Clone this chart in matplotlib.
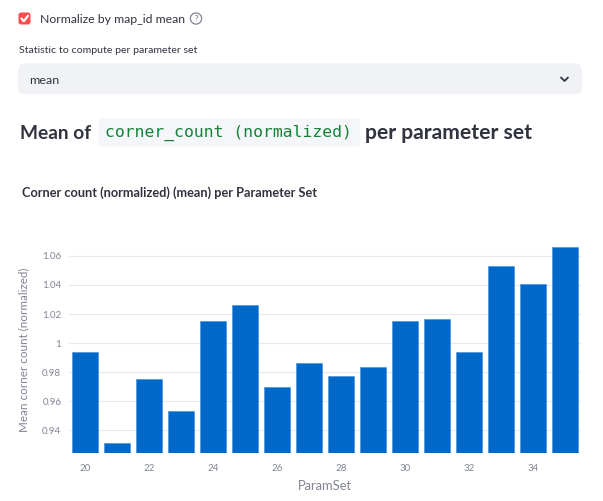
import matplotlib
matplotlib.use("Agg")
import matplotlib.pyplot as plt
from matplotlib.patches import FancyBboxPatch, Circle

# ---- data ----
param_sets = [20, 21, 22, 23, 24, 25, 26, 27, 28, 29, 30, 31, 32, 33, 34, 35]
mean_values = [0.994, 0.931, 0.975, 0.953, 1.015, 1.0265, 0.970, 0.9863,
               0.9772, 0.9834, 1.0153, 1.0164, 0.9937, 1.0531, 1.0407, 1.0664]
x_ticks = [20, 22, 24, 26, 28, 30, 32, 34]
y_ticks = [0.94, 0.96, 0.98, 1.00, 1.02, 1.04, 1.06]
y_tick_labels = ["0.94", "0.96", "0.98", "1", "1.02", "1.04", "1.06"]

W, H = 603, 501
FONT = ["Lato", "DejaVu Sans"]
TXT = "#31333F"
GRAY = "#808495"
BLUE = "#0068c9"

fig = plt.figure(figsize=(W / 100, H / 100), dpi=100)
fig.patch.set_facecolor("white")
ov = fig.add_axes([0, 0, 1, 1])
ov.set_xlim(0, W)
ov.set_ylim(H, 0)
ov.axis("off")
renderer = fig.canvas.get_renderer()


def fit(x, y, s, width, ha="left", va="baseline", size=10, **kw):
    t = ov.text(x, y, s, ha=ha, va=va, fontsize=size, **kw)
    bb = t.get_window_extent(renderer)
    t.set_fontsize(size * width / bb.width)
    return t


# checkbox
ov.add_patch(FancyBboxPatch((18.5, 12.5), 12, 12, boxstyle="round,pad=0,rounding_size=2.5",
                            fc="#ff4b4b", ec="none"))
ov.plot([21.5, 23.8, 28], [18.6, 21.2, 15.8], color="white", lw=1.6,
        solid_capstyle="round", solid_joinstyle="round")
fit(40, 22.7, "Normalize by map_id mean", 146, family=FONT, color=TXT)
ov.add_patch(Circle((196, 18.5), 5.6, fc="none", ec=GRAY, lw=0.9))
ov.text(196, 18.8, "?", ha="center", va="center", fontsize=5.5, family=FONT,
        color=GRAY, fontweight="bold")

# select label and box
fit(19, 53.3, "Statistic to compute per parameter set", 177, family=FONT, color=TXT)
ov.add_patch(FancyBboxPatch((18, 63.3), 564, 31, boxstyle="round,pad=0,rounding_size=7",
                            fc="#f0f2f6", ec="none"))
fit(29.5, 84.0, "mean", 30, family=FONT, color=TXT)
ov.plot([561, 564.5, 568], [77.5, 81, 77.5], color=TXT, lw=1.3,
        solid_capstyle="round", solid_joinstyle="round")

# heading
fit(20, 139.3, "Mean of", 71.5, family=FONT, color=TXT, fontweight="bold")
ov.add_patch(FancyBboxPatch((98.3, 118.3), 261.7, 28.4, boxstyle="round,pad=0,rounding_size=4",
                            fc="#f5f6f9", ec="none"))
fit(105, 137.2, "corner_count (normalized)", 246.5, family="DejaVu Sans Mono",
    color="#158237")
fit(365, 139.3, "per parameter set", 167.7, family=FONT, color=TXT, fontweight="bold")

# chart title
fit(21.7, 196.7, "Corner count (normalized) (mean) per Parameter Set", 296.6,
    family=FONT, color=TXT, fontweight="bold")

# ---- chart ----
left, right, top, bottom = 69, 581, 246.6, 452.7
ax = fig.add_axes([left / W, (H - bottom) / H, (right - left) / W, (bottom - top) / H])
ax.set_facecolor("none")
ax.bar(param_sets, mean_values, width=0.8, color=BLUE, edgecolor="#3f8ad4",
       linewidth=0.4, zorder=3)
ax.set_xlim(19.5, 35.5)
ax.set_ylim(0.9246, 1.0664)
ax.set_yticks(y_ticks)
ax.set_yticklabels(y_tick_labels)
ax.set_xticks(x_ticks)
ax.grid(axis="y", color="#e6e9ef", lw=0.9, zorder=0)
ax.grid(axis="x", visible=False)
for s in ax.spines.values():
    s.set_visible(False)
ax.tick_params(axis="both", length=0, labelsize=7, labelcolor=GRAY)
ax.tick_params(axis="y", pad=5.5)
ax.tick_params(axis="x", pad=8)
for lab in ax.get_xticklabels() + ax.get_yticklabels():
    lab.set_family(FONT)
ax.set_xlabel("ParamSet", fontsize=9.3, color=GRAY, family=FONT, labelpad=5)
ax.set_ylabel("Mean corner count (normalized)", fontsize=8.4, color=GRAY,
              family=FONT, labelpad=9)

fig.savefig("out.png", dpi=100)
